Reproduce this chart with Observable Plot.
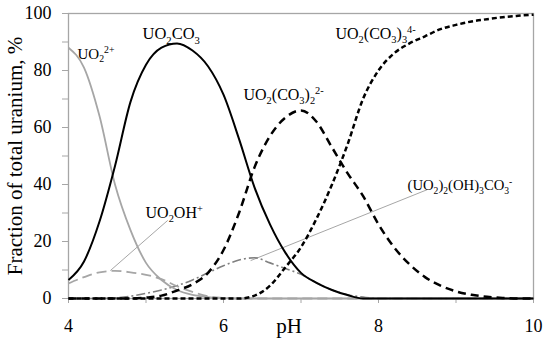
<!DOCTYPE html>
<html><head><meta charset="utf-8">
<script src="https://cdn.jsdelivr.net/npm/d3@7"></script>
<script src="https://cdn.jsdelivr.net/npm/@observablehq/plot@0.6"></script>
<style>
body{margin:0;background:#fff}
svg{font-family:"Liberation Serif",serif}
</style>
</head><body><div id="chart"></div>
<script>
const pH = [4.0,4.2,4.4,4.6,4.8,5.0,5.2,5.4,5.6,5.8,6.0,6.2,6.4,6.6,6.8,7.0,7.2,7.4,7.6,7.8,8.0,8.2,8.4,8.6,8.8,9.0,9.2,9.4,9.6,9.8,10.0];
const uo2 = [88,81,64,40,24,12.5,6.5,3,1.3,0.5,0.1,0,0,0,0,0,0,0,0,0,0,0,0,0,0,0,0,0,0,0,0];
const uo2co3 = [6.5,13,27,46.5,69,82,88,89.5,87,81.5,71.5,56,39,26,16,9,5.5,3,1.2,0,0,0,0,0,0,0,0,0,0,0,0];
const uo2co32 = [0,0,0,0,0,0.3,1,2.8,5,9,17,30,46,57,63.5,66,62,53,44,36,26,18,12,7.5,4.5,2.5,1.3,0.6,0.2,0,0];
const uo2co33 = [0,0,0,0,0,0,0,0,0,0,0,0,1,4.5,11,18,28,40,54,70,80,86,89.5,92,94.5,96,97.2,98,98.7,99.2,99.6];
const uo2oh = [5.3,7.5,9.2,9.7,9.2,8.3,6.8,4.3,2.3,0.8,0.2,0,0,0,0,0,0,0,0,0,0,0,0,0,0,0,0,0,0,0,0];
const uo22oh3co3 = [0,0,0,0.2,0.8,1.8,3,4.5,6.5,9,11.5,13.5,14.3,12.5,10.5,8.5,5.5,3,1.3,0.5,0,0,0,0,0,0,0,0,0,0,0];

const xTicks = [4,5,6,7,8,9,10];
const xTickLabels = [4,6,8,10];
const yTicks = [0,10,20,30,40,50,60,70,80,90,100];
const yTickLabels = [0,20,40,60,80,100];

const speciesLabels = ["UO_2^{2+}","UO_2CO_3","UO_2(CO_3)_2^{2-}","UO_2(CO_3)_3^{4-}","UO_2OH^+","(UO_2)_2(OH)_3CO_3^-"];
const labelX = [4.116,4.955,6.258,7.445,4.994,8.374];
const labelY = [84.2,90.9,69.5,91.2,28.1,37.9];
const labelSize = [15,16.5,16,16,16,14.7];
const leaderX1 = [4.54,6.35], leaderY1 = [9.8,13.3], leaderX2 = [5.28,8.63], leaderY2 = [27.4,38.2];

const mk = vals => pH.map((x,i)=>({x, y: vals[i]}));
const labels = speciesLabels.map((t,i)=>({t, x: labelX[i], y: labelY[i], s: labelSize[i]}));
const leaders = leaderX1.map((d,i)=>({x1: leaderX1[i], y1: leaderY1[i], x2: leaderX2[i], y2: leaderY2[i]}));

const gray = "#a6a6a6";
const lineOpts = (extra) => Object.assign({x:"x", y:"y", curve:"monotone-x", strokeLinecap:"butt"}, extra);

const chart = Plot.plot({
  width: 550, height: 350,
  marginLeft: 68, marginRight: 17, marginTop: 13, marginBottom: 52,
  x: {domain: [4,10]},
  y: {domain: [0,100]},
  style: {fontFamily: "Liberation Serif, serif", fontSize: "18px", background: "white", color: "black"},
  marks: [
    Plot.axisX({ticks: xTicks, tickSize: 5, tickFormat: () => "", color: gray, label: null}),
    Plot.axisX({ticks: xTickLabels, tickSize: 0, tickPadding: 21, fontSize: 18, tickFormat: d => String(d), label: null}),
    Plot.axisY({ticks: yTicks, tickSize: 6, tickFormat: () => "", color: gray, label: null}),
    Plot.axisY({ticks: yTickLabels, tickSize: 0, tickPadding: 17, fontSize: 18, tickFormat: d => String(d), label: null}),
    Plot.frame({stroke: gray, strokeWidth: 1.3}),
    Plot.link(leaders, {x1:"x1", y1:"y1", x2:"x2", y2:"y2", stroke: gray, strokeWidth: 1}),
    Plot.line(mk(uo22oh3co3), lineOpts({stroke:"#808080", strokeWidth:1.6, strokeDasharray:"9,3,2,3"})),
    Plot.line(mk(uo2oh), lineOpts({stroke:gray, strokeWidth:1.8, strokeDasharray:"10,5"})),
    Plot.line(mk(uo2), lineOpts({stroke:gray, strokeWidth:1.8})),
    Plot.line(mk(uo2co3), lineOpts({stroke:"black", strokeWidth:2})),
    Plot.line(mk(uo2co32), lineOpts({stroke:"black", strokeWidth:2.5, strokeDasharray:"8,5"})),
    Plot.line(mk(uo2co33), lineOpts({stroke:"black", strokeWidth:2.5, strokeDasharray:"5,3"})),
    Plot.text(labels, {x:"x", y:"y", text:"t", fontSize:"s", textAnchor:"start", lineAnchor:"bottom", fill:"black"}),
    Plot.text(["Fraction of total uranium, %"], {frameAnchor:"left", textAnchor:"middle", lineAnchor:"middle", rotate:-90, dx:-53, fontSize:21, fill:"black"}),
    Plot.text(["pH"], {frameAnchor:"bottom", textAnchor:"middle", lineAnchor:"bottom", dy:34, dx:-12, fontSize:21, fill:"black"})
  ]
});

function richify(el) {
  const s = el.textContent;
  if (!/[_^]/.test(s)) return;
  const base = parseFloat(el.getAttribute("font-size")) || 16;
  const parts = [];
  let i = 0;
  while (i < s.length) {
    if (s[i] === "_" || s[i] === "^") {
      const mode = s[i] === "_" ? "sub" : "sup"; i++;
      let t;
      if (s[i] === "{") { const j = s.indexOf("}", i); t = s.slice(i+1, j); i = j+1; }
      else { t = s[i]; i++; }
      parts.push({mode, t});
    } else {
      let j = i; while (j < s.length && s[j] !== "_" && s[j] !== "^") j++;
      parts.push({mode:"n", t: s.slice(i,j)}); i = j;
    }
  }
  el.textContent = "";
  let cur = 0;
  for (const p of parts) {
    const ts = document.createElementNS("http://www.w3.org/2000/svg", "tspan");
    const target = p.mode === "sub" ? 0.25*base : p.mode === "sup" ? -0.38*base : 0;
    const dy = target - cur; cur = target;
    if (dy) ts.setAttribute("dy", dy.toFixed(2));
    if (p.mode !== "n") ts.setAttribute("font-size", (0.65*base).toFixed(1));
    ts.textContent = p.t;
    el.appendChild(ts);
  }
}
chart.querySelectorAll("text").forEach(el => richify(el));
document.getElementById("chart").appendChild(chart);
</script>
</body></html>
